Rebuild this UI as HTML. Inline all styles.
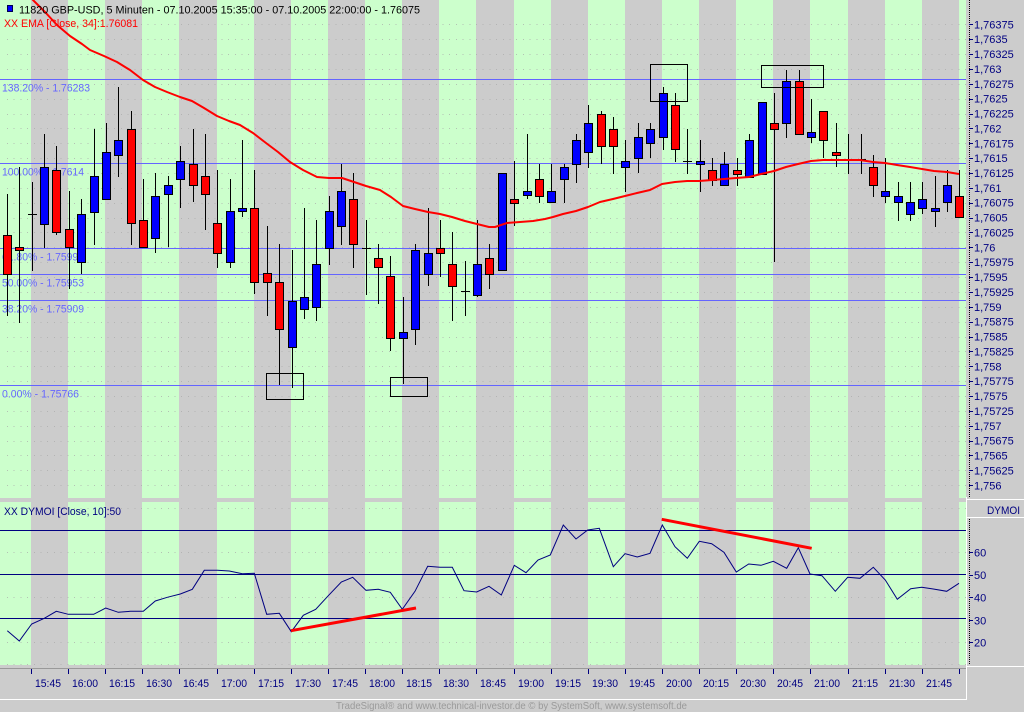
<!DOCTYPE html>
<html><head><meta charset="utf-8"><style>
html,body{margin:0;padding:0;background:#cccccc;}
svg{display:block;}
text{font-family:"Liberation Sans",Arial,sans-serif;}
</style></head><body>
<svg xmlns="http://www.w3.org/2000/svg" width="1024" height="712" viewBox="0 0 1024 712">
<defs>
<clipPath id="cp"><rect x="0" y="0" width="966" height="498"/></clipPath>
</defs>
<rect x="0" y="0" width="1024" height="712" fill="#cccccc"/>
<!-- green bands price panel -->
<g fill="#ccffcc">
<rect x="0" y="0" width="31" height="498"/><rect x="68" y="0" width="37" height="498"/><rect x="142" y="0" width="37" height="498"/><rect x="217" y="0" width="37" height="498"/><rect x="291" y="0" width="37" height="498"/><rect x="365" y="0" width="37" height="498"/><rect x="439" y="0" width="37" height="498"/><rect x="514" y="0" width="37" height="498"/><rect x="588" y="0" width="37" height="498"/><rect x="662" y="0" width="37" height="498"/><rect x="736" y="0" width="37" height="498"/><rect x="810" y="0" width="38" height="498"/><rect x="885" y="0" width="37" height="498"/><rect x="959" y="0" width="7" height="498"/>
<rect x="0" y="502" width="31" height="163"/><rect x="68" y="502" width="37" height="163"/><rect x="142" y="502" width="37" height="163"/><rect x="217" y="502" width="37" height="163"/><rect x="291" y="502" width="37" height="163"/><rect x="365" y="502" width="37" height="163"/><rect x="439" y="502" width="37" height="163"/><rect x="514" y="502" width="37" height="163"/><rect x="588" y="502" width="37" height="163"/><rect x="662" y="502" width="37" height="163"/><rect x="736" y="502" width="37" height="163"/><rect x="810" y="502" width="38" height="163"/><rect x="885" y="502" width="37" height="163"/><rect x="959" y="502" width="7" height="163"/>
</g>
<!-- grid dots -->
<g stroke="#a8a8a8" stroke-opacity="0.7" stroke-width="1" stroke-dasharray="1 5.7" shape-rendering="crispEdges">
<path d="M7 24.5H966M7 39.5H966M7 54.5H966M7 69.5H966M7 84.5H966M7 99.5H966M7 114.5H966M7 128.5H966M7 143.5H966M7 158.5H966M7 173.5H966M7 188.5H966M7 203.5H966M7 218.5H966M7 232.5H966M7 247.5H966M7 262.5H966M7 277.5H966M7 292.5H966M7 307.5H966M7 322.5H966M7 337.5H966M7 351.5H966M7 366.5H966M7 381.5H966M7 396.5H966M7 411.5H966M7 426.5H966M7 441.5H966M7 455.5H966M7 470.5H966M7 485.5H966"/>
<path d="M7 508.5H966M7 552.5H966M7 597.5H966M7 642.5H966M7 664.5H966"/>
</g>
<!-- fib lines -->
<g stroke="#6464ff" stroke-width="1" shape-rendering="crispEdges">
<path d="M0 79.5H966M0 163.5H966M0 248.5H966M0 274.5H966M0 300.5H966M0 385.5H966"/>
</g>
<g fill="#6666ff" font-size="11">
<text x="2" y="91.5" textLength="88" lengthAdjust="spacingAndGlyphs">138.20% - 1.76283</text>
<text x="2" y="175.5" textLength="82" lengthAdjust="spacingAndGlyphs">100.00% - 1.7614</text>
<text x="2" y="260.5" textLength="82" lengthAdjust="spacingAndGlyphs">61.80% - 1.75997</text>
<text x="2" y="286.5" textLength="82" lengthAdjust="spacingAndGlyphs">50.00% - 1.75953</text>
<text x="2" y="312.5" textLength="82" lengthAdjust="spacingAndGlyphs">38.20% - 1.75909</text>
<text x="2" y="397.5" textLength="77" lengthAdjust="spacingAndGlyphs">0.00% - 1.75766</text>
</g>
<!-- candles -->
<g stroke="#000" stroke-width="1" shape-rendering="crispEdges" fill="none">
<path d="M7.5 194V316M19.5 167V323M32.5 182V271M44.5 134V248M56.5 146V235M69.5 191V289M81.5 199V274M94.5 129V245M106.5 123V199M118.5 87V177M131.5 111V245M143.5 179V247M155.5 173V253M168.5 176V247M180.5 146V208M193.5 129V202M205.5 134V230M217.5 170V268M230.5 179V268M242.5 140V217M254.5 170V294M267.5 226V316M279.5 244V385M292.5 250V388M304.5 208V319M316.5 220V321M329.5 196V265M341.5 164V245M353.5 173V268M366.5 220V295M378.5 244V304M390.5 256V351M403.5 297V384M415.5 244V345M428.5 208V286M440.5 220V277M452.5 232V321M465.5 261V316M477.5 220V297M489.5 244V289M514.5 161V226M527.5 134V199M539.5 164V203M551.5 164V202M564.5 164V203M576.5 134V183M588.5 105V168M601.5 111V164M613.5 117V174M625.5 140V192M638.5 123V173M650.5 123V158M663.5 87V150M675.5 93V162M687.5 129V174M700.5 140V192M712.5 158V186M724.5 152V185M737.5 158V186M749.5 134V177M774.5 93V262M786.5 70V138M799.5 70V134M811.5 99V143M823.5 111V158M836.5 123V167M848.5 134V174M861.5 134V174M873.5 155V197M885.5 158V203M898.5 182V221M910.5 182V221M922.5 182V214M935.5 176V227M947.5 170V212M959.5 170V217"/>
<path d="M28 214.5H37M362 248.5H371M461 291.5H470M683 161.5H692M844 159.5H853M857 159.5H866"/>
</g>
<g stroke="#000" stroke-width="1" shape-rendering="crispEdges" fill="#ff0000">
<rect x="3.5" y="235.5" width="8" height="39"/>
<rect x="15.5" y="247.5" width="8" height="3"/>
<rect x="52.5" y="170.5" width="8" height="62"/>
<rect x="65.5" y="229.5" width="8" height="18"/>
<rect x="127.5" y="129.5" width="8" height="94"/>
<rect x="139.5" y="220.5" width="8" height="27"/>
<rect x="189.5" y="164.5" width="8" height="21"/>
<rect x="201.5" y="176.5" width="8" height="18"/>
<rect x="213.5" y="223.5" width="8" height="30"/>
<rect x="250.5" y="208.5" width="8" height="74"/>
<rect x="263.5" y="273.5" width="8" height="9"/>
<rect x="275.5" y="282.5" width="8" height="47"/>
<rect x="349.5" y="199.5" width="8" height="45"/>
<rect x="374.5" y="258.5" width="8" height="9"/>
<rect x="386.5" y="276.5" width="8" height="62"/>
<rect x="436.5" y="248.5" width="8" height="5"/>
<rect x="448.5" y="264.5" width="8" height="22"/>
<rect x="485.5" y="258.5" width="8" height="16"/>
<rect x="510.5" y="199.5" width="8" height="4"/>
<rect x="535.5" y="179.5" width="8" height="17"/>
<rect x="597.5" y="114.5" width="8" height="32"/>
<rect x="609.5" y="129.5" width="8" height="17"/>
<rect x="671.5" y="105.5" width="8" height="44"/>
<rect x="708.5" y="170.5" width="8" height="10"/>
<rect x="733.5" y="170.5" width="8" height="4"/>
<rect x="770.5" y="123.5" width="8" height="6"/>
<rect x="795.5" y="81.5" width="8" height="53"/>
<rect x="819.5" y="111.5" width="8" height="29"/>
<rect x="832.5" y="152.5" width="8" height="3"/>
<rect x="869.5" y="167.5" width="8" height="18"/>
<rect x="955.5" y="196.5" width="8" height="21"/>
</g>
<g stroke="#000" stroke-width="1" shape-rendering="crispEdges" fill="#0000ff">
<rect x="40.5" y="167.5" width="8" height="57"/>
<rect x="77.5" y="214.5" width="8" height="48"/>
<rect x="90.5" y="176.5" width="8" height="36"/>
<rect x="102.5" y="152.5" width="8" height="47"/>
<rect x="114.5" y="140.5" width="8" height="15"/>
<rect x="151.5" y="196.5" width="8" height="42"/>
<rect x="164.5" y="185.5" width="8" height="9"/>
<rect x="176.5" y="161.5" width="8" height="18"/>
<rect x="226.5" y="211.5" width="8" height="51"/>
<rect x="238.5" y="208.5" width="8" height="3"/>
<rect x="288.5" y="301.5" width="8" height="46"/>
<rect x="300.5" y="297.5" width="8" height="12"/>
<rect x="312.5" y="264.5" width="8" height="43"/>
<rect x="325.5" y="211.5" width="8" height="37"/>
<rect x="337.5" y="191.5" width="8" height="35"/>
<rect x="399.5" y="332.5" width="8" height="6"/>
<rect x="411.5" y="250.5" width="8" height="79"/>
<rect x="424.5" y="253.5" width="8" height="21"/>
<rect x="473.5" y="264.5" width="8" height="31"/>
<rect x="498.5" y="173.5" width="8" height="97"/>
<rect x="523.5" y="191.5" width="8" height="4"/>
<rect x="547.5" y="191.5" width="8" height="11"/>
<rect x="560.5" y="167.5" width="8" height="12"/>
<rect x="572.5" y="140.5" width="8" height="24"/>
<rect x="584.5" y="123.5" width="8" height="29"/>
<rect x="621.5" y="161.5" width="8" height="6"/>
<rect x="634.5" y="137.5" width="8" height="21"/>
<rect x="646.5" y="129.5" width="8" height="14"/>
<rect x="659.5" y="93.5" width="8" height="44"/>
<rect x="696.5" y="161.5" width="8" height="3"/>
<rect x="720.5" y="164.5" width="8" height="21"/>
<rect x="745.5" y="140.5" width="8" height="37"/>
<rect x="758.5" y="102.5" width="8" height="72"/>
<rect x="782.5" y="81.5" width="8" height="42"/>
<rect x="807.5" y="132.5" width="8" height="5"/>
<rect x="881.5" y="191.5" width="8" height="5"/>
<rect x="894.5" y="196.5" width="8" height="6"/>
<rect x="906.5" y="202.5" width="8" height="12"/>
<rect x="918.5" y="199.5" width="8" height="9"/>
<rect x="931.5" y="208.5" width="8" height="3"/>
<rect x="943.5" y="185.5" width="8" height="17"/>
</g>
<!-- EMA -->
<g clip-path="url(#cp)">
<polyline fill="none" stroke="#ff0000" stroke-width="2" stroke-linejoin="round" points="7,-26 20,-12 33,0 45,12 57,25 70,36 82,44 90,50 104,56 117,62 130,70 143,80 155,87 167,92 180,97 192,101 204,108 217,116 229,121 240,125 253,133 266,143 278,152 290,162 303,170 317,177 329,178 342,178 354,182 366,186 380,190 391,197 403,206 415,209 428,212 440,214 452,217 465,221 477,224 489,227 495,227 507,223 520,222 533,221 545,219 553,217 563,214 576,211 588,207 600,202 613,199 625,196 637,193 650,190 662,184 675,182 687,181 699,181 712,180 724,179 736,178 749,177 761,174 774,171 786,167 798,164 811,161 823,160 835,160 848,160 860,160 873,162 885,163 897,165 910,167 922,169 934,171 947,172 959,174"/>
</g>
<!-- boxes -->
<g fill="none" stroke="#000" stroke-width="1" shape-rendering="crispEdges">
<rect x="266.5" y="373.5" width="37" height="26"/>
<rect x="390.5" y="377.5" width="37" height="19"/>
<rect x="650.5" y="64.5" width="37" height="37"/>
<rect x="761.5" y="65.5" width="62" height="22"/>
</g>
<!-- header -->
<rect x="7.5" y="5.5" width="5" height="6" fill="#0000ff" stroke="#000050" stroke-width="1"/>
<text x="19" y="13.5" font-size="11" fill="#000" textLength="401" lengthAdjust="spacingAndGlyphs">11820 GBP-USD, 5 Minuten - 07.10.2005 15:35:00 - 07.10.2005 22:00:00 - 1.76075</text>
<text x="4" y="27" font-size="11" fill="#ff0000" textLength="134" lengthAdjust="spacingAndGlyphs">XX EMA [Close, 34]:1.76081</text>
<!-- indicator -->
<g stroke="#000080" stroke-width="1" shape-rendering="crispEdges">
<path d="M0 530.5H966M0 574.5H966M0 618.5H966"/>
</g>
<polyline fill="none" stroke="#000080" stroke-width="1" points="7.3,630.7 19.3,641 31.7,624 44.3,618.3 56.3,611.3 68.3,614.3 81.7,614.3 93.7,614.3 105.7,608 118.3,612.3 130.3,611.3 143.3,611.3 155.3,601 167.3,597.3 180.3,594 192.3,589.3 204.3,570.3 217.3,570.3 229.3,571 242.3,573.7 254.3,573.3 266.7,614.3 279.3,613.3 291.3,631.7 303.3,615.3 315.7,609.3 328.3,595.7 341.3,582 352.7,577.3 366,590.3 378.3,589.3 390.3,592.3 402.3,609.3 415,591.3 427.7,566.3 440,567.3 452.3,567.3 464,590.7 476.7,592 489,586.3 501.3,595 514.3,565.3 526,572.7 538,560 550.3,555 563.3,525 576,539 587.7,530 599.3,528.3 613.3,566.7 625,553.7 637.3,557 650,553.3 662.3,525 675,546.7 687.3,558.3 699.3,541.3 711.7,543.7 724,552.3 736.3,572 748.7,564 761,565.3 773.3,561.3 786.7,568.3 798.3,547.7 810,574 822,575.7 835.3,591.3 847.7,577.3 860,578.3 873.3,567.3 885.3,580 897.3,599.3 910.7,588.7 921.7,587.3 933.3,589 946.7,591.3 959,583.3"/>
<g stroke="#ff0000" stroke-width="3" stroke-linecap="butt">
<line x1="291" y1="630.7" x2="416" y2="608"/>
<line x1="661.7" y1="519.3" x2="811.7" y2="548.3"/>
</g>
<text x="4" y="515" font-size="11" fill="#000080" textLength="117" lengthAdjust="spacingAndGlyphs">XX DYMOI [Close, 10]:50</text>
<!-- right axis -->
<g stroke="#ffffff" stroke-width="1" shape-rendering="crispEdges">
<path d="M966.5 497V699M967 499.5H1024M967 517.5H1024M967 666.5H1024M0 699.5H967"/>
</g>
<g stroke="#000" stroke-width="1" stroke-dasharray="1 1" shape-rendering="crispEdges">
<path d="M969.5 0V498M969.5 519V665"/>
</g>
<g stroke="#000080" stroke-width="1" shape-rendering="crispEdges">
<path d="M969 24.5H973M969 39.5H973M969 54.5H973M969 69.5H973M969 84.5H973M969 99.5H973M969 114.5H973M969 128.5H973M969 143.5H973M969 158.5H973M969 173.5H973M969 188.5H973M969 203.5H973M969 218.5H973M969 232.5H973M969 247.5H973M969 262.5H973M969 277.5H973M969 292.5H973M969 307.5H973M969 322.5H973M969 337.5H973M969 351.5H973M969 366.5H973M969 381.5H973M969 396.5H973M969 411.5H973M969 426.5H973M969 441.5H973M969 455.5H973M969 470.5H973M969 485.5H973"/>
<path d="M969 552.5H973M969 575.5H973M969 597.5H973M969 620.5H973M969 642.5H973"/>
</g>
<g fill="#000080" font-size="11">
<text x="974" y="28.3">1,76375</text>
<text x="974" y="43.2">1,7635</text>
<text x="974" y="58">1,76325</text>
<text x="974" y="72.9">1,763</text>
<text x="974" y="87.8">1,76275</text>
<text x="974" y="102.7">1,7625</text>
<text x="974" y="117.5">1,76225</text>
<text x="974" y="132.4">1,762</text>
<text x="974" y="147.3">1,76175</text>
<text x="974" y="162.1">1,7615</text>
<text x="974" y="177">1,76125</text>
<text x="974" y="191.9">1,761</text>
<text x="974" y="206.7">1,76075</text>
<text x="974" y="221.6">1,7605</text>
<text x="974" y="236.5">1,76025</text>
<text x="974" y="251.4">1,76</text>
<text x="974" y="266.2">1,75975</text>
<text x="974" y="281.1">1,7595</text>
<text x="974" y="296">1,75925</text>
<text x="974" y="310.8">1,759</text>
<text x="974" y="325.7">1,75875</text>
<text x="974" y="340.6">1,7585</text>
<text x="974" y="355.4">1,75825</text>
<text x="974" y="370.3">1,758</text>
<text x="974" y="385.2">1,75775</text>
<text x="974" y="400">1,7575</text>
<text x="974" y="414.9">1,75725</text>
<text x="974" y="429.8">1,757</text>
<text x="974" y="444.7">1,75675</text>
<text x="974" y="459.5">1,7565</text>
<text x="974" y="474.4">1,75625</text>
<text x="974" y="489.3">1,756</text>
<text x="974" y="556.3">60</text>
<text x="974" y="579">50</text>
<text x="974" y="601.7">40</text>
<text x="974" y="624.3">30</text>
<text x="974" y="646.7">20</text>
<text x="987" y="514" textLength="33" lengthAdjust="spacingAndGlyphs">DYMOI</text>
</g>
<!-- x axis -->
<path d="M0 668.5H966" stroke="#999999" stroke-width="1" shape-rendering="crispEdges"/>
<g stroke="#000080" stroke-width="1" shape-rendering="crispEdges">
<path d="M31.5 669V674M68.5 669V674M105.5 669V674M142.5 669V674M179.5 669V674M217.5 669V674M254.5 669V674M291.5 669V674M328.5 669V674M365.5 669V674M402.5 669V674M439.5 669V674M476.5 669V674M514.5 669V674M551.5 669V674M588.5 669V674M625.5 669V674M662.5 669V674M699.5 669V674M736.5 669V674M773.5 669V674M810.5 669V674M848.5 669V674M885.5 669V674M922.5 669V674M959.5 669V674"/>
</g>
<g fill="#000080" font-size="11">
<text x="35" y="687" textLength="26" lengthAdjust="spacingAndGlyphs">15:45</text>
<text x="72" y="687" textLength="26" lengthAdjust="spacingAndGlyphs">16:00</text>
<text x="109" y="687" textLength="26" lengthAdjust="spacingAndGlyphs">16:15</text>
<text x="146" y="687" textLength="26" lengthAdjust="spacingAndGlyphs">16:30</text>
<text x="183" y="687" textLength="26" lengthAdjust="spacingAndGlyphs">16:45</text>
<text x="221" y="687" textLength="26" lengthAdjust="spacingAndGlyphs">17:00</text>
<text x="258" y="687" textLength="26" lengthAdjust="spacingAndGlyphs">17:15</text>
<text x="295" y="687" textLength="26" lengthAdjust="spacingAndGlyphs">17:30</text>
<text x="332" y="687" textLength="26" lengthAdjust="spacingAndGlyphs">17:45</text>
<text x="369" y="687" textLength="26" lengthAdjust="spacingAndGlyphs">18:00</text>
<text x="406" y="687" textLength="26" lengthAdjust="spacingAndGlyphs">18:15</text>
<text x="443" y="687" textLength="26" lengthAdjust="spacingAndGlyphs">18:30</text>
<text x="480" y="687" textLength="26" lengthAdjust="spacingAndGlyphs">18:45</text>
<text x="518" y="687" textLength="26" lengthAdjust="spacingAndGlyphs">19:00</text>
<text x="555" y="687" textLength="26" lengthAdjust="spacingAndGlyphs">19:15</text>
<text x="592" y="687" textLength="26" lengthAdjust="spacingAndGlyphs">19:30</text>
<text x="629" y="687" textLength="26" lengthAdjust="spacingAndGlyphs">19:45</text>
<text x="666" y="687" textLength="26" lengthAdjust="spacingAndGlyphs">20:00</text>
<text x="703" y="687" textLength="26" lengthAdjust="spacingAndGlyphs">20:15</text>
<text x="740" y="687" textLength="26" lengthAdjust="spacingAndGlyphs">20:30</text>
<text x="777" y="687" textLength="26" lengthAdjust="spacingAndGlyphs">20:45</text>
<text x="814" y="687" textLength="26" lengthAdjust="spacingAndGlyphs">21:00</text>
<text x="852" y="687" textLength="26" lengthAdjust="spacingAndGlyphs">21:15</text>
<text x="889" y="687" textLength="26" lengthAdjust="spacingAndGlyphs">21:30</text>
<text x="926" y="687" textLength="26" lengthAdjust="spacingAndGlyphs">21:45</text>
</g>
<!-- footer -->
<text x="336" y="709" font-size="10.5" fill="#9a9a9a" textLength="351" lengthAdjust="spacingAndGlyphs">TradeSignal® and www.technical-investor.de © by  SystemSoft, www.systemsoft.de</text>
</svg>
</body></html>
